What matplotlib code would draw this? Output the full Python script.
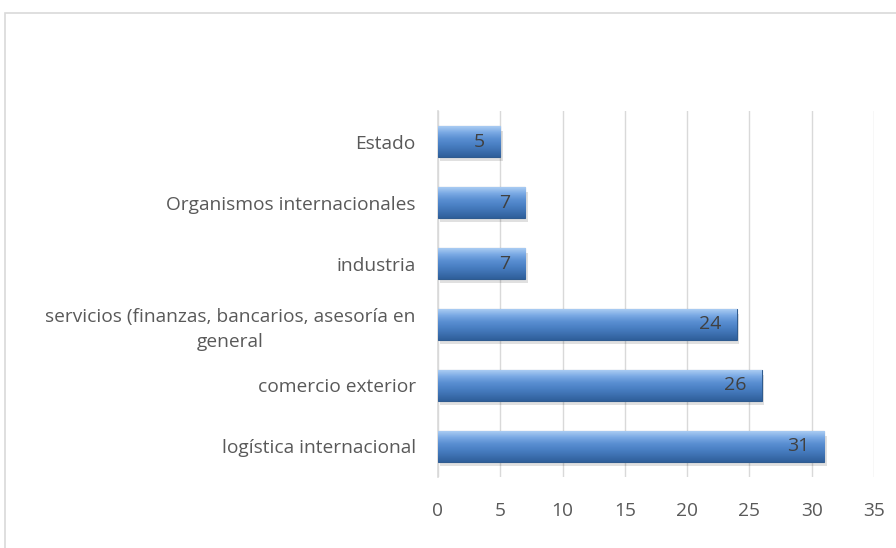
import matplotlib.pyplot as plt
import matplotlib.patches as patches
from matplotlib.colors import LinearSegmentedColormap
import numpy as np

# datos
categorias = ['logística internacional', 'comercio exterior',
              'servicios (finanzas, bancarios, asesoría en\ngeneral',
              'industria', 'Organismos internacionales', 'Estado']
valores = [31, 26, 24, 7, 7, 5]
ticks_x = [0, 5, 10, 15, 20, 25, 30, 35]

plt.rcParams['font.family'] = ['Open Sans', 'DejaVu Sans']
gris = '#595959'

fig = plt.figure(figsize=(8.96, 5.48), dpi=100)
ax = fig.add_axes([0.4888, 0.1296, 0.4866, 0.6678])

# marco del grafico
fig.patches.append(patches.Rectangle((5 / 896, -0.01), 1.0, 1 - 13 / 548 + 0.01,
                                     transform=fig.transFigure, fill=False,
                                     edgecolor='#d9d9d9', linewidth=1.2))

cmap = LinearSegmentedColormap.from_list('bisel', ['#2f5f9a', '#3d70b0', '#4a80c4',
                                                   '#5a8fd2', '#7aa9e4', '#a9cbf2'])
grad = np.linspace(0, 1, 64).reshape(-1, 1)

y = np.arange(len(categorias))
h = 0.5
# sombra
ax.barh(y - 0.07, valores, height=h, left=0.2, color='#000000', alpha=0.12, zorder=2)
bars = ax.barh(y, valores, height=h, color='#4a7ebb', edgecolor='#2f5b8f',
               linewidth=0.8, zorder=3)
for b in bars:
    x0, y0 = b.get_x(), b.get_y()
    im = ax.imshow(grad, cmap=cmap, aspect='auto', origin='lower', zorder=3.5,
                   extent=[x0, x0 + b.get_width(), y0, y0 + b.get_height()])
    im.set_clip_path(b)

for yi, v in zip(y, valores):
    ax.annotate(str(v), (v, yi), xytext=(-11, 0), textcoords='offset points',
                ha='right', va='center', fontsize=14, color='#404040', zorder=5)

ax.set_xlim(0, 35)
ax.set_ylim(-0.5, len(categorias) - 0.5)
ax.set_xticks(ticks_x)
ax.set_yticks(y)
ax.set_yticklabels(categorias, multialignment='center', linespacing=1.45)
ax.tick_params(axis='both', length=0, labelsize=13.8, colors=gris)
ax.tick_params(axis='y', pad=16)
ax.tick_params(axis='x', pad=18)
ax.grid(axis='x', color='#d9d9d9', linewidth=1, zorder=0)
for s in ['top', 'right', 'bottom']:
    ax.spines[s].set_visible(False)
ax.spines['left'].set_color('#d9d9d9')
ax.spines['left'].set_linewidth(1.2)

fig.savefig('out.png', dpi=100)
